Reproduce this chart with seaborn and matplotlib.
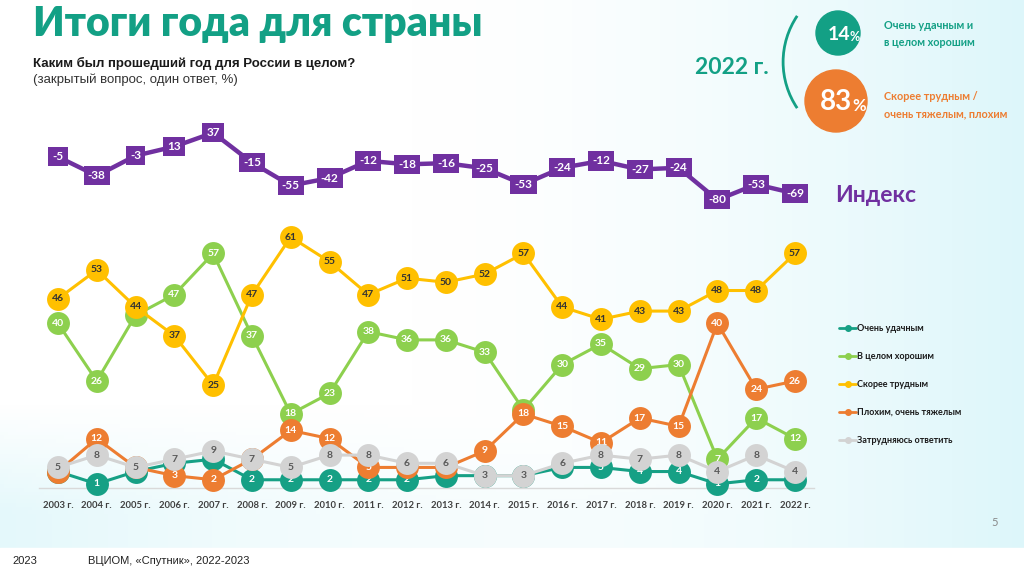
import numpy as np
import pandas as pd
import matplotlib.pyplot as plt
from matplotlib.patches import Arc, Circle
from matplotlib.lines import Line2D
import seaborn as sns

# data
years = list(range(2003, 2023))
year_labels = [f"{y} г." for y in years]

index_vals = [-5, -38, -3, 13, 37, -15, -55, -42, -12, -18, -16, -25, -53, -24, -12, -27, -24, -80, -53, -69]
very_good = [4, 1, 4, 6, 7, 2, 2, 2, 2, 2, 3, 3, 3, 5, 5, 4, 4, 1, 2, 2]
good = [40, 26, 42, 47, 57, 37, 18, 23, 38, 36, 36, 33, 19, 30, 35, 29, 30, 7, 17, 12]
rather_hard = [46, 53, 44, 37, 25, 47, 61, 55, 47, 51, 50, 52, 57, 44, 41, 43, 43, 48, 48, 57]
bad = [4, 12, 5, 3, 2, 7, 14, 12, 5, 5, 5, 9, 18, 15, 11, 17, 15, 40, 24, 26]
hard_to_say = [5, 8, 5, 7, 9, 7, 5, 8, 8, 6, 6, 3, 3, 6, 8, 7, 8, 4, 8, 4]

series_names = ["Очень удачным", "В целом хорошим", "Скорее трудным",
                "Плохим, очень тяжелым", "Затрудняюсь ответить"]
series_vals = [very_good, good, rather_hard, bad, hard_to_say]
colors = ["#16A085", "#8DD04E", "#FFC000", "#ED7D31", "#D3D3D3"]
text_colors = ["white", "white", "#333333", "white", "#595959"]
zorders = [3, 4, 10, 6, 8]

TEAL = "#13A085"
PURPLE = "#7030A0"
ORANGE = "#ED7D31"

sns.set_theme(style="white")
plt.rcParams["font.family"] = ["Lato", "Open Sans", "DejaVu Sans"]

W, H = 1024, 581
fig = plt.figure(figsize=(W / 100, H / 100), dpi=100)

# background + decorations in pixel coordinates
bg = fig.add_axes([0, 0, 1, 1], zorder=0)
bg.set_xlim(0, W)
bg.set_ylim(H, 0)
bg.axis("off")

xx, yy = np.meshgrid(np.linspace(0, 1, 256), np.linspace(0, 1, 146))
w_right = np.clip((xx - 0.4) / 0.6, 0, 1) ** 1.6 * 0.95
w_bottom = np.clip((yy - 0.74) / 0.2, 0, 1) * (0.75 - 0.5 * np.sin(np.pi * xx))
w = np.maximum(w_right, w_bottom)
cyan = np.array([0.86, 0.965, 0.98])
img = (1 - w[..., None]) * np.array([1.0, 1.0, 1.0]) + w[..., None] * cyan
bg.imshow(img, extent=[0, W, 548, 0], aspect="auto", zorder=0)
bg.fill_between([0, W], 548, H, color="white", zorder=0.5)

bg.text(33, 36, "Итоги года для страны", fontsize=29.5, fontweight="heavy",
        color=TEAL, va="baseline", ha="left")
bg.text(33, 63, "Каким был прошедший год для России в целом?", fontsize=9.5,
        fontweight="bold", color="#1a1a1a", va="center", family="Liberation Sans")
bg.text(33, 80, "(закрытый вопрос, один ответ, %)", fontsize=9.5,
        color="#333333", va="center", family="Liberation Sans")

bg.text(732, 68, "2022 г.", fontsize=16.5, fontweight="bold", color=TEAL,
        ha="center", va="center")
bg.add_patch(Arc((865.6, 62), 165, 165, theta1=146, theta2=214,
                 color=TEAL, lw=2))
bg.add_patch(Circle((838, 33), 22, color=TEAL))
bg.text(850, 34, "14", fontsize=14, fontweight="bold", color="white",
        ha="right", va="center")
bg.text(850, 37, "%", fontsize=9, fontweight="bold", color="white",
        ha="left", va="center")
bg.add_patch(Circle((836, 101), 31, color=ORANGE))
bg.text(852, 102, "83", fontsize=20, fontweight="bold", color="white",
        ha="right", va="center")
bg.text(852, 106, "%", fontsize=12, fontweight="bold", color="white",
        ha="left", va="center")
bg.text(884, 34, "Очень удачным и\nв целом хорошим", fontsize=7.8,
        fontweight="bold", color=TEAL, va="center", linespacing=1.75)
bg.text(884, 105, "Скорее трудным /\nочень тяжелым, плохим", fontsize=7.8,
        fontweight="bold", color=ORANGE, va="center", linespacing=1.75)

bg.text(995, 522, "5", fontsize=8, color="#888888", ha="center", va="center")
bg.text(12, 561, "2023", fontsize=8, color="#222222", va="center",
        family="Liberation Sans")
bg.text(88, 561, "ВЦИОМ, «Спутник», 2022-2023", fontsize=8, color="#222222",
        va="center", family="Liberation Sans")

# index panel
x_left, x_right = 38.6 / W, 814.4 / W
ax_idx = fig.add_axes([x_left, 1 - 210 / H, x_right - x_left, 90 / H], zorder=2)
ax_idx.patch.set_alpha(0)
sns.lineplot(x=years, y=index_vals, ax=ax_idx, color=PURPLE, linewidth=3.2)
for x, v in zip(years, index_vals):
    ax_idx.text(x, v, str(v), fontsize=8.5, fontweight="bold", color="white",
                ha="center", va="center", zorder=5,
                bbox=dict(boxstyle="square,pad=0.35", fc=PURPLE, ec="none"))
ax_idx.set_xlim(2002.5, 2022.5)
ax_idx.set_ylim(-97.7, 59.3)
ax_idx.axis("off")
bg.text(835, 196, "Индекс", fontsize=16.5, fontweight="bold", color=PURPLE,
        va="center", ha="left")

# main panel
ax = fig.add_axes([x_left, 1 - 488 / H, x_right - x_left, 288 / H], zorder=1)
ax.patch.set_alpha(0)
for i, (name, vals, c, tc, z) in enumerate(zip(series_names, series_vals, colors,
                                                text_colors, zorders)):
    sns.lineplot(x=years, y=vals, ax=ax, color=c, linewidth=2.2, marker="o",
                 markersize=16.5, markeredgewidth=0, zorder=z, clip_on=False)
    for k, (x, v) in enumerate(zip(years, vals)):
        # a label whose circle is covered by a series drawn on top stays hidden
        covered = any(zorders[j] > z and abs(series_vals[j][k] - v) < 2.5
                      for j in range(len(series_vals)))
        if covered:
            continue
        ax.text(x, v, str(v), fontsize=7.5, fontweight="bold", color=tc,
                ha="center", va="center", zorder=z + 0.5)

ax.set_xlim(2002.5, 2022.5)
ax.set_ylim(0, 70)
ax.set_xticks(years)
ax.set_xticklabels(year_labels, fontsize=6.8, fontweight="bold", color="#404040")
ax.set_yticks([])
ax.tick_params(axis="x", length=0, pad=9)
for s in ["top", "right", "left"]:
    ax.spines[s].set_visible(False)
ax.spines["bottom"].set_color("#D9D9D9")
ax.spines["bottom"].set_linewidth(1)
ax.set_xlabel("")
ax.set_ylabel("")

handles = [Line2D([0], [0], color=c, lw=2, marker="o", markersize=4)
           for c in colors]
fig.legend(handles, series_names, loc="upper left",
           bbox_to_anchor=(831 / W, 1 - 316 / H), frameon=False,
           prop=dict(size=6.5, weight="bold"), handlelength=1.9,
           handletextpad=0.1, labelspacing=2.1, labelcolor="#1a1a1a")

fig.savefig("out.png", dpi=100)
